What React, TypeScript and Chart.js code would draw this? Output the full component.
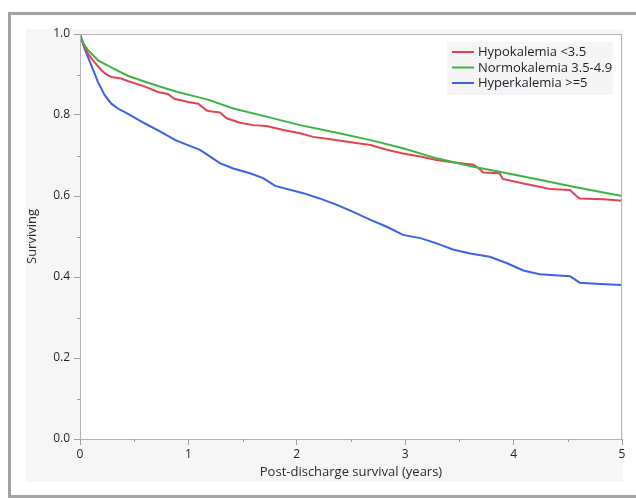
import React, { useEffect, useRef } from "react";
import { Chart, registerables } from "chart.js";

Chart.register(...registerables);

const seriesLabels = ["Hypokalemia <3.5", "Normokalemia 3.5-4.9", "Hyperkalemia >=5"];
const seriesColors = ["#e2434f", "#3cb444", "#3b62e4"];

const hypoTimes = [0, 0.03, 0.074, 0.135, 0.2, 0.243, 0.29, 0.38, 0.44, 0.6, 0.72, 0.81, 0.87, 1.0, 1.09, 1.17, 1.2, 1.29, 1.353, 1.476, 1.6, 1.72, 1.876, 2.03, 2.15, 2.31, 2.5, 2.68, 2.83, 2.98, 3.15, 3.29, 3.45, 3.63, 3.68, 3.72, 3.87, 3.9, 4.09, 4.25, 4.34, 4.52, 4.58, 4.61, 4.83, 5.0];
const hypoValues = [1.0, 0.975, 0.951, 0.93, 0.91, 0.9, 0.894, 0.89, 0.884, 0.87, 0.857, 0.852, 0.84, 0.832, 0.828, 0.811, 0.809, 0.806, 0.792, 0.781, 0.775, 0.773, 0.763, 0.755, 0.746, 0.74, 0.733, 0.726, 0.714, 0.705, 0.697, 0.689, 0.683, 0.677, 0.668, 0.658, 0.656, 0.642, 0.631, 0.622, 0.617, 0.615, 0.6, 0.594, 0.592, 0.588];

const normoTimes = [0, 0.03, 0.074, 0.166, 0.3, 0.44, 0.6, 0.75, 0.9, 1.06, 1.18, 1.414, 1.72, 2.03, 2.37, 2.68, 2.98, 3.29, 3.63, 3.94, 4.24, 4.55, 5.0];
const normoValues = [1.0, 0.978, 0.96, 0.935, 0.916, 0.897, 0.882, 0.869, 0.857, 0.846, 0.838, 0.816, 0.796, 0.775, 0.756, 0.738, 0.718, 0.693, 0.672, 0.656, 0.64, 0.623, 0.6];

const hyperTimes = [0, 0.04, 0.104, 0.166, 0.228, 0.289, 0.35, 0.443, 0.6, 0.75, 0.88, 1.03, 1.107, 1.18, 1.29, 1.414, 1.568, 1.69, 1.8, 2.06, 2.21, 2.37, 2.52, 2.68, 2.83, 2.98, 3.14, 3.29, 3.44, 3.6, 3.78, 3.94, 4.09, 4.24, 4.52, 4.61, 4.8, 5.0];
const hyperValues = [1.0, 0.965, 0.923, 0.881, 0.849, 0.828, 0.816, 0.803, 0.779, 0.758, 0.738, 0.722, 0.714, 0.701, 0.681, 0.668, 0.656, 0.644, 0.625, 0.607, 0.594, 0.578, 0.561, 0.541, 0.524, 0.504, 0.496, 0.483, 0.468, 0.458, 0.45, 0.434, 0.416, 0.407, 0.402, 0.386, 0.383, 0.38];

const yTickLabels = ["0.0", "0.2", "0.4", "0.6", "0.8", "1.0"];
const xTickLabels = ["0", "1", "2", "3", "4", "5"];

const FONT = "'Open Sans', 'Noto Sans', sans-serif";

function pts(ts: number[], vs: number[]) {
  return ts.map((t, i) => ({ x: t, y: vs[i] }));
}

const isMajorY = (v: number) => Math.round(v * 10) % 2 === 0;
const isMajorX = (v: number) => Math.abs(v - Math.round(v)) < 1e-6;

const decorPlugin = {
  id: "decor",
  beforeDraw(chart: any) {
    const { ctx, chartArea } = chart;
    ctx.save();
    ctx.fillStyle = "#ffffff";
    ctx.fillRect(0, 0, chart.width, chart.height);
    ctx.strokeStyle = "#a3a3a3";
    ctx.lineWidth = 3;
    ctx.strokeRect(9.5, 13.5, 700, 483);
    ctx.fillStyle = "#f6f6f6";
    ctx.fillRect(26, 29, 597, 453);
    ctx.fillStyle = "#ffffff";
    ctx.fillRect(chartArea.left, chartArea.top, chartArea.right - chartArea.left, chartArea.bottom - chartArea.top);
    ctx.restore();
  },
  afterDraw(chart: any) {
    const { ctx, chartArea, scales } = chart;
    ctx.save();
    ctx.strokeStyle = "#b4b4b4";
    ctx.lineWidth = 1;
    ctx.strokeRect(chartArea.left + 0.5, chartArea.top + 0.5, chartArea.right - chartArea.left - 1, chartArea.bottom - chartArea.top);
    ctx.strokeStyle = "#a0a0a0";
    ctx.beginPath();
    scales.y.ticks.forEach((t: any) => {
      if (!isMajorY(t.value)) {
        const y = Math.round(scales.y.getPixelForValue(t.value)) + 0.5;
        ctx.moveTo(chartArea.left - 3, y);
        ctx.lineTo(chartArea.left, y);
      }
    });
    scales.x.ticks.forEach((t: any) => {
      if (!isMajorX(t.value)) {
        const x = Math.round(scales.x.getPixelForValue(t.value)) + 0.5;
        ctx.moveTo(x, chartArea.bottom);
        ctx.lineTo(x, chartArea.bottom + 3);
      }
    });
    ctx.stroke();
    const lx = 447, ly = 42, lw = 166, lh = 53;
    ctx.fillStyle = "#f5f5f5";
    ctx.fillRect(lx, ly, lw, lh);
    ctx.font = `13px ${FONT}`;
    ctx.textBaseline = "middle";
    ctx.textAlign = "left";
    chart.data.datasets.forEach((ds: any, i: number) => {
      const y = 52 + i * 15.5;
      ctx.strokeStyle = ds.borderColor;
      ctx.lineWidth = 2;
      ctx.beginPath();
      ctx.moveTo(452, y);
      ctx.lineTo(474, y);
      ctx.stroke();
      ctx.fillStyle = "#1e1e2a";
      ctx.fillText(ds.label, 478, y + 0.5);
    });
    ctx.restore();
  },
};

export default function App() {
  const ref = useRef<HTMLCanvasElement | null>(null);
  useEffect(() => {
    if (!ref.current) return;
    const datasets = [
      { label: seriesLabels[0], data: pts(hypoTimes, hypoValues), borderColor: seriesColors[0], order: 2 },
      { label: seriesLabels[1], data: pts(normoTimes, normoValues), borderColor: seriesColors[1], order: 1 },
      { label: seriesLabels[2], data: pts(hyperTimes, hyperValues), borderColor: seriesColors[2], order: 3 },
    ].map((d) => ({ ...d, borderWidth: 2, pointRadius: 0, tension: 0, fill: false, backgroundColor: d.borderColor }));

    const chart = new Chart(ref.current, {
      type: "line",
      data: { datasets },
      plugins: [decorPlugin],
      options: {
        animation: false,
        responsive: false,
        devicePixelRatio: 1,
        layout: { padding: { left: 0, top: 34, right: 14, bottom: 0 } },
        plugins: { legend: { display: false }, tooltip: { enabled: false } },
        scales: {
          x: {
            type: "linear",
            min: 0,
            max: 5,
            afterFit: (s: any) => { s.height = 59; },
            afterBuildTicks: (s: any) => {
              const arr = [];
              for (let i = 0; i <= 10; i++) arr.push({ value: i * 0.5 });
              s.ticks = arr;
            },
            ticks: {
              autoSkip: false,
              maxRotation: 0,
              padding: 2,
              color: "#1e1e2a",
              font: { family: FONT, size: 12 },
              callback: (v: any) => (isMajorX(Number(v)) ? xTickLabels[Math.round(Number(v))] : ""),
            },
            grid: {
              drawOnChartArea: false,
              drawTicks: true,
              tickLength: 6,
              tickColor: (c: any) => (c.tick && isMajorX(c.tick.value) ? "#a0a0a0" : "rgba(0,0,0,0)"),
            },
            border: { display: true, color: "#a8a8a8", width: 1 },
            title: {
              display: true,
              text: "Post-discharge survival (years)",
              color: "#2a2a2a",
              font: { family: FONT, size: 13 },
              padding: { top: 0, bottom: 18 },
            },
          },
          y: {
            type: "linear",
            min: 0,
            max: 1,
            afterFit: (s: any) => { s.width = 80; },
            afterBuildTicks: (s: any) => {
              const arr = [];
              for (let i = 0; i <= 10; i++) arr.push({ value: i / 10 });
              s.ticks = arr;
            },
            ticks: {
              autoSkip: false,
              padding: 4,
              color: "#1e1e2a",
              font: { family: FONT, size: 12 },
              callback: (v: any) => {
                const n = Math.round(Number(v) * 10);
                return n % 2 === 0 ? yTickLabels[n / 2] : "";
              },
            },
            grid: {
              drawOnChartArea: false,
              drawTicks: true,
              tickLength: 6,
              tickColor: (c: any) => (c.tick && isMajorY(c.tick.value) ? "#a0a0a0" : "rgba(0,0,0,0)"),
            },
            border: { display: true, color: "#a8a8a8", width: 1 },
            title: {
              display: true,
              text: "Surviving",
              color: "#2a2a2a",
              font: { family: FONT, size: 13 },
              padding: { top: 24, bottom: 0 },
            },
          },
        },
      },
    } as any);
    return () => chart.destroy();
  }, []);
  return (
    <div style={{ position: "absolute", left: 0, top: 0, width: 636, height: 498 }}>
      <canvas ref={ref} width={636} height={498} style={{ width: 636, height: 498, display: "block" }} />
    </div>
  );
}
